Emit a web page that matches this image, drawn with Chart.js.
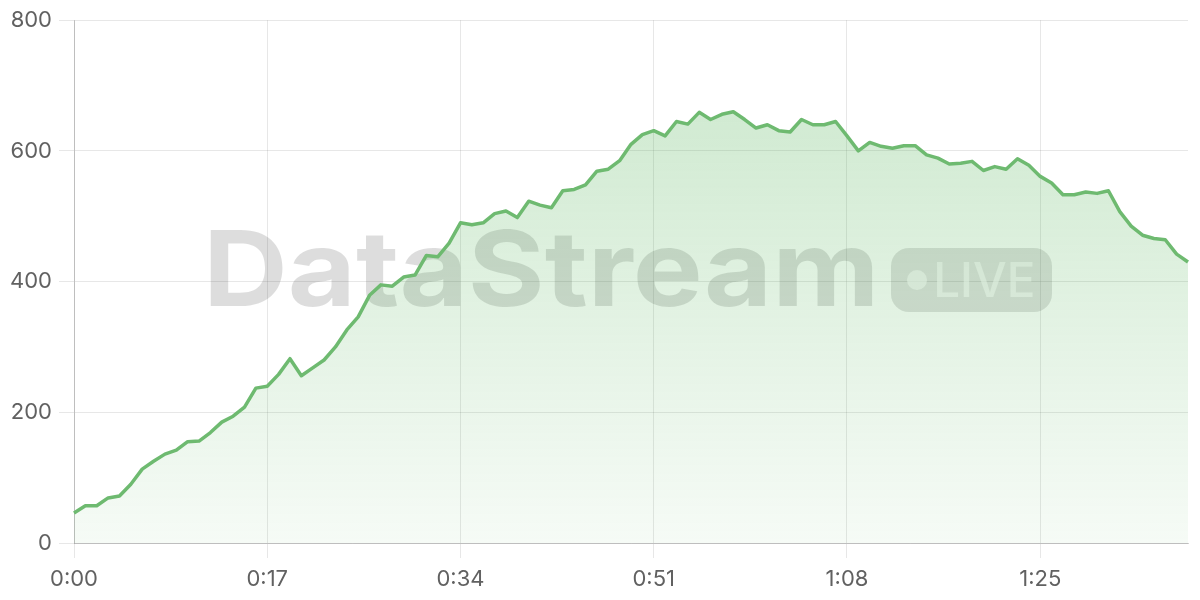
<!DOCTYPE html>
<html>
<head>
<meta charset="utf-8">
<script src="https://cdn.jsdelivr.net/npm/chart.js@4/dist/chart.umd.min.js"></script>
<style>
  html, body { margin: 0; padding: 0; background: #ffffff; }
  #wrap { width: 1200px; height: 600px; }
</style>
</head>
<body>
<div id="wrap"><canvas id="c" width="1200" height="600"></canvas></div>
<script>
// ---- data ----
const timeLabels = [
  '0:00','0:01','0:02','0:03','0:04','0:05','0:06','0:07','0:08','0:09',
  '0:10','0:11','0:12','0:13','0:14','0:15','0:16','0:17','0:18','0:19',
  '0:20','0:21','0:22','0:23','0:24','0:25','0:26','0:27','0:28','0:29',
  '0:30','0:31','0:32','0:33','0:34','0:35','0:36','0:37','0:38','0:39',
  '0:40','0:41','0:42','0:43','0:44','0:45','0:46','0:47','0:48','0:49',
  '0:50','0:51','0:52','0:53','0:54','0:55','0:56','0:57','0:58','0:59',
  '1:00','1:01','1:02','1:03','1:04','1:05','1:06','1:07','1:08','1:09',
  '1:10','1:11','1:12','1:13','1:14','1:15','1:16','1:17','1:18','1:19',
  '1:20','1:21','1:22','1:23','1:24','1:25','1:26','1:27','1:28','1:29',
  '1:30','1:31','1:32','1:33','1:34','1:35','1:36','1:37','1:38'
];
const viewers = [
  46, 57, 57, 69, 72, 90, 113, 125, 136, 142,
  155, 156, 169, 185, 194, 208, 237, 240, 258, 282,
  256, 268, 280, 300, 326, 346, 379, 395, 393, 407,
  410, 440, 438, 459, 490, 487, 490, 504, 508, 498,
  523, 517, 513, 539, 541, 548, 569, 572, 585, 610,
  625, 631, 623, 645, 641, 659, 648, 656, 660, 648,
  635, 640, 631, 629, 648, 640, 640, 645, 623, 600,
  613, 607, 604, 608, 608, 594, 589, 580, 581, 584,
  570, 576, 572, 588, 578, 561, 551, 533, 533, 537,
  535, 539, 507, 485, 471, 466, 464, 442, 430
];
const yMin = 0;
const yMax = 800;
const yStep = 200;
const tickEvery = 17;
const watermarkWord = 'DataStream';
const badgeWord = 'LIVE';

// ---- watermark plugin ----
function fitText(c, text, font, x0, x1, top, base, color) {
  c.save();
  c.font = font;
  c.textAlign = 'left';
  c.textBaseline = 'alphabetic';
  const m = c.measureText(text);
  const w = m.actualBoundingBoxLeft + m.actualBoundingBoxRight;
  const capH = c.measureText(text[0]).actualBoundingBoxAscent;
  const sx = (x1 - x0) / w;
  const sy = (base - top) / capH;
  c.translate(x0, base);
  c.scale(sx, sy);
  c.fillStyle = color;
  c.fillText(text, m.actualBoundingBoxLeft, 0);
  c.restore();
}

const watermark = {
  id: 'watermark',
  beforeDatasetsDraw(chart) {
    const c = chart.ctx;
    fitText(c, watermarkWord, '700 100px Inter', 210, 872, 230, 306, 'rgba(0,0,0,0.135)');
    c.save();
    c.fillStyle = 'rgba(0,0,0,0.12)';
    c.beginPath();
    c.roundRect(891, 248, 161, 64, 18);
    c.fill();
    c.fillStyle = 'rgba(255,255,255,0.6)';
    c.beginPath();
    c.arc(917, 280, 10, 0, Math.PI * 2);
    c.fill();
    c.restore();
    fitText(c, badgeWord, '500 100px Inter', 937, 1033, 262, 297, 'rgba(255,255,255,0.6)');
  }
};

// ---- chart ----
const axisFont = { family: 'Inter', size: 22 };
const ctx = document.getElementById('c').getContext('2d');
new Chart(ctx, {
  type: 'line',
  data: {
    labels: timeLabels,
    datasets: [{
      label: 'Viewers',
      data: viewers,
      borderColor: 'rgb(110,186,112)',
      borderWidth: 3.5,
      tension: 0,
      pointRadius: 0,
      pointHoverRadius: 0,
      borderJoinStyle: 'round',
      fill: 'origin',
      backgroundColor: (context) => {
        const chart = context.chart;
        const a = chart.chartArea;
        if (!a) return 'rgba(76,175,80,0.15)';
        const g = chart.ctx.createLinearGradient(0, a.top, 0, a.bottom);
        g.addColorStop(0, 'rgba(76,175,80,0.30)');
        g.addColorStop(1, 'rgba(76,175,80,0.05)');
        return g;
      }
    }]
  },
  options: {
    responsive: false,
    animation: false,
    events: [],
    layout: { padding: { top: 7, right: 12, left: 0, bottom: 0 } },
    plugins: {
      legend: { display: false },
      tooltip: { enabled: false },
      title: { display: false }
    },
    scales: {
      x: {
        type: 'category',
        afterBuildTicks: (scale) => {
          scale.ticks = scale.ticks.filter(t => t.value % tickEvery === 0);
        },
        afterFit: (scale) => { scale.height = 57; },
        ticks: {
          autoSkip: false,
          maxRotation: 0,
          color: '#616161',
          font: axisFont,
          padding: 8
        },
        grid: {
          color: 'rgba(0,0,0,0.095)',
          tickLength: 15
        },
        border: { color: 'rgba(0,0,0,0.18)', width: 1 }
      },
      y: {
        min: yMin,
        max: yMax,
        afterFit: (scale) => { scale.width = 74; },
        ticks: {
          stepSize: yStep,
          color: '#616161',
          font: axisFont,
          padding: 7
        },
        grid: {
          color: 'rgba(0,0,0,0.095)',
          tickLength: 15
        },
        border: { color: 'rgba(0,0,0,0.18)', width: 1 }
      }
    }
  },
  plugins: [watermark]
});
</script>
</body>
</html>
